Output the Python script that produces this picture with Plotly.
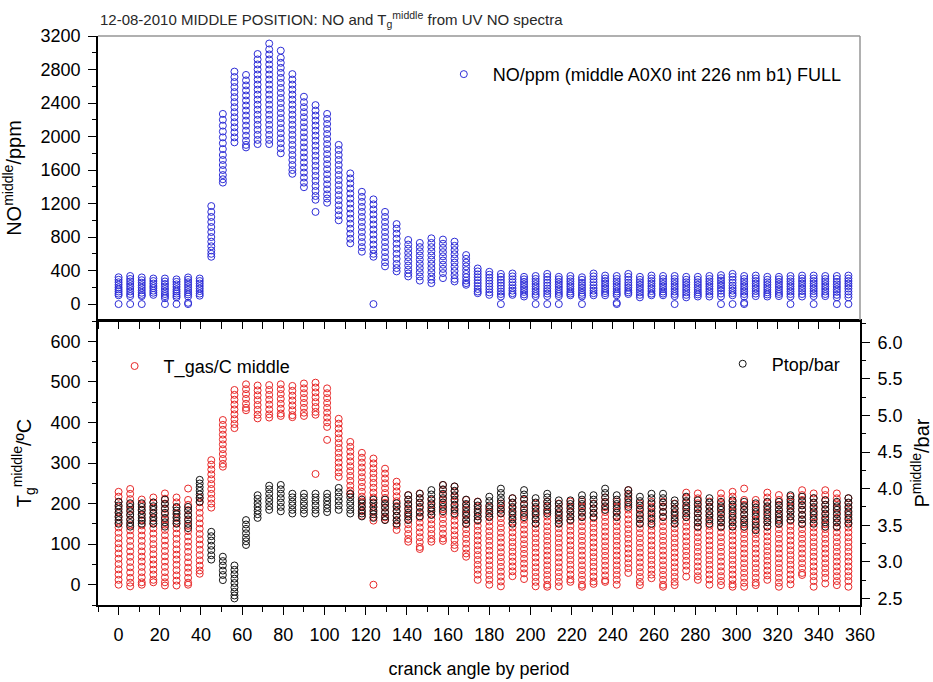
import plotly.graph_objects as go

# crank angle of each measurement column (deg)
ANGLES = [0, 5.625, 11.25, 16.875, 22.5, 28.125, 33.75, 39.375, 45, 50.625, 56.25, 61.875,
          67.5, 73.125, 78.75, 84.375, 90, 95.625, 101.25, 106.875, 112.5, 118.125, 123.75,
          129.375, 135, 140.625, 146.25, 151.875, 157.5, 163.125, 168.75, 174.375, 180,
          185.625, 191.25, 196.875, 202.5, 208.125, 213.75, 219.375, 225, 230.625, 236.25,
          241.875, 247.5, 253.125, 258.75, 264.375, 270, 275.625, 281.25, 286.875, 292.5,
          298.125, 303.75, 309.375, 315, 320.625, 326.25, 331.875, 337.5, 343.125, 348.75,
          354.375]

# NO / ppm, one list per angle column
NO_PPM = [
    [320, 290, 260, 230, 200, 175, 150, 125, 105, 0],
    [335, 300, 270, 240, 210, 180, 150, 120, 95, 0],
    [318, 285, 255, 225, 195, 165, 135, 110, 95, 0],
    [305, 275, 245, 215, 190, 160, 135, 110],
    [305, 270, 240, 210, 180, 150, 120, 95, 70, 0],
    [295, 265, 235, 205, 175, 150, 125, 100, 80, 0],
    [318, 290, 260, 230, 200, 170, 140, 115, 90, 0, 15],
    [305, 275, 245, 215, 185, 155, 125, 100],
    [1170, 1100, 1040, 980, 920, 860, 800, 745, 690, 640, 600, 565],
    [2270, 2200, 2130, 2060, 1990, 1920, 1850, 1780, 1720, 1660, 1600, 1540, 1490, 1450],
    [2775, 2710, 2650, 2590, 2530, 2470, 2410, 2350, 2290, 2230, 2170, 2110, 2050, 1990, 1930],
    [2735, 2670, 2610, 2550, 2490, 2430, 2370, 2310, 2250, 2190, 2130, 2070, 2010, 1950, 1900, 1870],
    [2985, 2920, 2860, 2800, 2740, 2680, 2620, 2560, 2500, 2440, 2380, 2320, 2260, 2200, 2140, 2080, 2020, 1960, 1910],
    [3110, 3040, 2980, 2920, 2860, 2800, 2740, 2680, 2620, 2560, 2500, 2440, 2380, 2320, 2260, 2200, 2140, 2080, 2020, 1960, 1910],
    [3025, 2940, 2880, 2820, 2760, 2700, 2640, 2580, 2520, 2460, 2400, 2340, 2280, 2220, 2160, 2100, 2040, 1980, 1920, 1860, 1800],
    [2745, 2680, 2620, 2560, 2500, 2440, 2380, 2320, 2260, 2200, 2140, 2080, 2020, 1960, 1900, 1840, 1780, 1720, 1660, 1600, 1555],
    [2475, 2410, 2350, 2290, 2230, 2170, 2110, 2050, 1990, 1930, 1870, 1810, 1750, 1690, 1630, 1570, 1510, 1450, 1395],
    [2375, 2310, 2250, 2190, 2130, 2070, 2010, 1950, 1890, 1830, 1770, 1710, 1650, 1590, 1530, 1470, 1410, 1350, 1290, 1245, 1100],
    [2270, 2210, 2150, 2090, 2030, 1970, 1910, 1850, 1790, 1730, 1670, 1610, 1550, 1490, 1430, 1370, 1310, 1260, 1210],
    [1900, 1840, 1780, 1720, 1660, 1600, 1540, 1480, 1420, 1360, 1300, 1240, 1180, 1120, 1060, 1000],
    [1560, 1500, 1440, 1380, 1320, 1260, 1200, 1140, 1080, 1020, 960, 900, 840, 780, 725],
    [1340, 1280, 1220, 1160, 1100, 1040, 980, 920, 860, 800, 740, 680, 625],
    [1250, 1190, 1130, 1070, 1010, 950, 890, 830, 770, 710, 650, 600, 565, 0],
    [1100, 1040, 980, 920, 860, 800, 740, 680, 620, 560, 500, 450],
    [955, 900, 840, 780, 720, 660, 600, 540, 480, 430, 390],
    [765, 710, 660, 610, 560, 510, 460, 410, 365, 330],
    [730, 680, 630, 580, 530, 480, 430, 380, 330, 280],
    [785, 730, 680, 630, 580, 530, 480, 430, 380, 330, 290, 250],
    [770, 720, 670, 620, 570, 520, 470, 420, 370, 310],
    [745, 695, 645, 595, 545, 495, 445, 395, 345, 300, 270],
    [585, 540, 495, 450, 405, 360, 320, 280, 250, 230],
    [425, 390, 355, 320, 285, 250, 215, 180, 150, 130],
    [385, 350, 315, 280, 245, 210, 175, 140, 110],
    [360, 325, 290, 255, 220, 185, 150, 120, 90, 0],
    [365, 330, 295, 260, 225, 190, 160, 130, 110],
    [325, 295, 265, 235, 205, 175, 145, 115, 90],
    [335, 300, 270, 240, 210, 180, 150, 120, 95, 0],
    [360, 325, 290, 255, 220, 185, 155, 125, 95, 0],
    [325, 295, 265, 235, 205, 175, 145, 120, 95, 0],
    [335, 300, 270, 240, 210, 180, 150, 125, 105],
    [320, 290, 255, 225, 195, 165, 135, 110, 90, 0],
    [365, 330, 295, 260, 225, 190, 160, 130, 105],
    [340, 305, 275, 245, 215, 185, 155, 130, 105],
    [335, 300, 270, 240, 210, 180, 150, 125, 105, 0, 15],
    [360, 325, 290, 255, 225, 195, 165, 140, 120],
    [325, 290, 260, 230, 200, 170, 140, 110, 80],
    [340, 305, 275, 245, 215, 185, 155, 125, 105],
    [335, 300, 270, 240, 210, 180, 150, 125, 105],
    [335, 300, 270, 240, 210, 180, 150, 120, 95, 0],
    [325, 290, 260, 230, 200, 170, 140, 110, 80],
    [325, 290, 260, 230, 200, 170, 140, 115, 90],
    [335, 300, 270, 240, 210, 180, 150, 120, 90],
    [345, 310, 280, 250, 220, 190, 160, 125, 90, 0],
    [360, 325, 290, 255, 220, 190, 160, 130, 105, 0],
    [335, 300, 270, 240, 210, 180, 150, 120, 90, 0, 15],
    [340, 305, 275, 245, 215, 185, 155, 125, 95],
    [325, 290, 260, 230, 200, 170, 140, 115, 90],
    [325, 295, 265, 235, 205, 175, 145, 120, 95],
    [335, 300, 270, 240, 210, 180, 150, 120, 90, 0],
    [340, 305, 275, 245, 215, 185, 155, 120, 90],
    [340, 305, 275, 245, 215, 185, 155, 125, 95, 0],
    [335, 300, 270, 240, 210, 180, 150, 120, 95],
    [335, 300, 265, 235, 205, 175, 145, 110, 80, 0],
    [340, 305, 275, 245, 215, 185, 150, 115, 80, 0],
]

# gas temperature / degC, one list per angle column
T_GAS = [
    [229, 217, 204, 192, 179, 166, 153, 141, 128, 115, 102, 90, 77, 64, 51, 38, 25, 12, 0],
    [236, 224, 211, 198, 185, 172, 160, 147, 134, 121, 108, 95, 82, 69, 56, 43, 30, 17, 5, -4],
    [210, 198, 185, 172, 159, 146, 134, 121, 108, 95, 82, 69, 57, 44, 31, 18, 6, 0],
    [215, 203, 190, 177, 164, 151, 139, 126, 113, 100, 88, 75, 62, 50, 37, 25, 12, 6],
    [225, 212, 200, 187, 174, 161, 148, 135, 122, 109, 96, 83, 70, 57, 44, 31, 18, 6, -2],
    [215, 203, 190, 177, 164, 152, 139, 126, 113, 100, 87, 74, 62, 49, 36, 23, 10, -2],
    [237, 209, 197, 184, 171, 158, 145, 132, 119, 106, 94, 81, 68, 55, 42, 30, 17, 5, 0],
    [215, 203, 190, 177, 164, 151, 138, 125, 112, 99, 86, 73, 60, 47, 35, 27],
    [307, 296, 284, 272, 260, 248, 236, 224, 212, 200, 190],
    [406, 394, 382, 370, 358, 346, 334, 322, 310, 298, 291],
    [480, 468, 456, 444, 432, 420, 408, 396, 386],
    [494, 482, 470, 458, 446, 436, 430],
    [491, 479, 467, 455, 443, 431, 419, 410],
    [492, 480, 468, 456, 444, 432, 420, 412],
    [494, 482, 470, 458, 446, 434, 422, 416],
    [490, 478, 466, 454, 442, 430, 418, 413],
    [496, 484, 472, 460, 448, 436, 424, 416],
    [498, 486, 474, 462, 450, 438, 426, 419, 273],
    [484, 472, 460, 448, 436, 424, 412, 400, 389, 357],
    [409, 397, 385, 373, 361, 349, 337, 325, 313, 301, 289, 277, 266],
    [352, 340, 328, 316, 304, 292, 280, 268, 256, 244, 232, 223],
    [325, 313, 301, 289, 277, 265, 253, 241, 229, 217, 205, 193, 181, 170],
    [311, 299, 287, 275, 263, 251, 239, 227, 215, 203, 191, 179, 167, 158, 0],
    [286, 274, 262, 250, 238, 226, 214, 202, 190, 178, 166, 160],
    [254, 242, 230, 218, 206, 194, 182, 170, 158, 146, 135],
    [221, 209, 197, 185, 173, 161, 149, 137, 125, 113, 106],
    [225, 213, 201, 189, 177, 165, 153, 141, 129, 117, 105, 93, 88],
    [209, 197, 185, 173, 161, 149, 137, 125, 113, 106],
    [246, 234, 222, 210, 198, 186, 174, 162, 150, 138, 126, 114, 108],
    [242, 230, 218, 206, 194, 182, 170, 158, 146, 134, 122, 110, 98, 90],
    [209, 197, 185, 173, 161, 149, 137, 125, 113, 101, 89, 77, 69],
    [205, 193, 181, 169, 157, 145, 133, 121, 109, 97, 85, 73, 61, 49, 37, 25, 12],
    [192, 180, 168, 156, 144, 132, 120, 108, 96, 84, 72, 60, 48, 36, 24, 12, 0],
    [200, 188, 176, 164, 152, 140, 128, 116, 104, 92, 80, 68, 56, 44, 32, 20, 8, -4],
    [213, 201, 189, 177, 165, 153, 141, 129, 117, 105, 93, 81, 69, 57, 45, 33, 21],
    [210, 198, 184, 172, 160, 148, 136, 124, 112, 100, 88, 76, 64, 52, 40, 28, 14],
    [200, 188, 176, 164, 151, 139, 127, 115, 103, 91, 79, 67, 55, 43, 31, 19, 7, -4],
    [205, 193, 180, 168, 156, 144, 132, 120, 108, 96, 84, 72, 60, 48, 36, 24, 12, 0, -5],
    [200, 188, 176, 164, 151, 139, 127, 115, 103, 91, 79, 67, 55, 43, 31, 19, 7, -4],
    [205, 193, 181, 169, 157, 145, 133, 121, 109, 97, 85, 73, 61, 49, 37, 25, 13, 7],
    [205, 193, 180, 168, 156, 144, 132, 120, 108, 96, 84, 72, 60, 48, 36, 24, 12, 0, -5],
    [200, 188, 176, 164, 152, 140, 128, 116, 104, 92, 80, 68, 56, 44, 32, 20, 8, 2],
    [215, 203, 191, 179, 167, 155, 143, 131, 119, 107, 95, 83, 71, 59, 47, 35, 23, 11, 7],
    [205, 193, 181, 168, 156, 144, 132, 120, 108, 96, 84, 72, 60, 48, 36, 24, 12, 0],
    [233, 221, 209, 197, 185, 173, 161, 149, 137, 125, 113, 101, 89, 77, 65, 53, 41, 29],
    [200, 188, 176, 164, 151, 139, 127, 115, 103, 91, 79, 67, 55, 43, 31, 19, 7, -1],
    [205, 193, 181, 169, 157, 145, 133, 121, 109, 97, 85, 73, 61, 49, 37, 25, 16],
    [205, 193, 180, 168, 156, 144, 132, 120, 108, 96, 84, 72, 60, 48, 36, 24, 12, 0, -5],
    [200, 188, 176, 164, 151, 139, 127, 115, 103, 91, 79, 67, 55, 43, 31, 19, 7, -1],
    [227, 215, 203, 191, 179, 167, 155, 143, 131, 119, 107, 95, 83, 71, 59, 47, 35, 20],
    [225, 213, 201, 189, 177, 165, 153, 141, 129, 117, 105, 93, 81, 69, 57, 45, 33, 21, 12],
    [205, 193, 181, 169, 157, 145, 133, 121, 109, 97, 85, 73, 61, 49, 37, 25, 13, 0],
    [225, 213, 201, 189, 177, 165, 153, 141, 129, 117, 105, 93, 81, 69, 57, 45, 33, 21, 9, -1],
    [229, 217, 205, 193, 181, 169, 157, 145, 133, 121, 109, 97, 85, 73, 61, 49, 37, 25, 13, 1, -5],
    [237, 209, 197, 185, 173, 161, 149, 137, 125, 113, 101, 89, 77, 65, 53, 41, 29, 17, 5, -5],
    [209, 197, 185, 173, 161, 149, 137, 125, 113, 101, 89, 77, 65, 53, 41, 29, 17, 5, -1],
    [227, 215, 203, 191, 179, 167, 155, 143, 131, 119, 107, 95, 83, 71, 59, 47, 35, 23, 12],
    [221, 209, 197, 185, 173, 161, 149, 137, 125, 113, 101, 89, 77, 65, 53, 41, 29, 17, 5, -5],
    [217, 205, 193, 181, 169, 157, 145, 133, 121, 109, 97, 85, 73, 61, 49, 37, 25, 13, 1],
    [233, 221, 209, 197, 185, 173, 161, 149, 137, 125, 113, 101, 89, 77, 65, 53, 41, 29, 24],
    [225, 213, 201, 189, 177, 165, 153, 141, 129, 117, 105, 93, 81, 69, 57, 45, 33, 21, 9, -5],
    [233, 221, 209, 197, 185, 173, 161, 149, 137, 125, 113, 101, 89, 77, 65, 53, 41, 29, 17, 3],
    [225, 213, 201, 189, 177, 165, 153, 141, 129, 117, 105, 93, 81, 69, 57, 45, 33, 21, 9, -1],
    [213, 201, 189, 177, 165, 153, 141, 129, 117, 105, 93, 81, 69, 57, 45, 33, 21, 9, -5],
]

# top pressure / bar, one list per angle column
P_TOP = [
    [3.82, 3.77, 3.72, 3.67, 3.62, 3.57, 3.52],
    [3.80, 3.75, 3.69, 3.64, 3.58, 3.53, 3.48],
    [3.80, 3.75, 3.70, 3.65, 3.60, 3.56, 3.52],
    [3.81, 3.76, 3.71, 3.66, 3.61, 3.56, 3.52],
    [3.85, 3.79, 3.73, 3.67, 3.60, 3.54, 3.48],
    [3.75, 3.70, 3.65, 3.61, 3.56, 3.52],
    [3.75, 3.70, 3.64, 3.58, 3.52, 3.46],
    [4.12, 4.07, 4.02, 3.97, 3.92, 3.87, 3.82],
    [3.41, 3.35, 3.29, 3.22, 3.16, 3.09, 3.03],
    [3.07, 3.01, 2.95, 2.88, 2.82, 2.75],
    [2.95, 2.89, 2.83, 2.77, 2.71, 2.65, 2.59, 2.54, 2.50],
    [3.57, 3.51, 3.45, 3.39, 3.33, 3.28, 3.23],
    [3.91, 3.86, 3.80, 3.75, 3.70, 3.65, 3.60],
    [4.04, 3.99, 3.93, 3.87, 3.82, 3.76, 3.71],
    [4.05, 3.99, 3.93, 3.87, 3.81, 3.75, 3.69],
    [3.93, 3.88, 3.82, 3.77, 3.71, 3.66],
    [3.93, 3.88, 3.82, 3.77, 3.71, 3.66],
    [3.93, 3.88, 3.83, 3.77, 3.71, 3.66],
    [3.93, 3.88, 3.83, 3.78, 3.73, 3.68],
    [4.01, 3.95, 3.89, 3.83, 3.77, 3.71],
    [3.93, 3.88, 3.82, 3.77, 3.71, 3.66],
    [3.85, 3.80, 3.75, 3.70, 3.66, 3.62],
    [3.85, 3.80, 3.75, 3.70, 3.65, 3.60],
    [3.85, 3.79, 3.74, 3.68, 3.62, 3.57],
    [3.80, 3.75, 3.69, 3.63, 3.57, 3.52],
    [3.91, 3.85, 3.79, 3.73, 3.67, 3.62, 3.57],
    [3.93, 3.87, 3.81, 3.75, 3.68, 3.62],
    [3.98, 3.92, 3.86, 3.80, 3.74, 3.69, 3.64],
    [4.05, 3.99, 3.93, 3.87, 3.81, 3.75, 3.69],
    [4.03, 3.97, 3.91, 3.85, 3.78, 3.72, 3.66],
    [3.85, 3.79, 3.74, 3.68, 3.63, 3.57, 3.52],
    [3.82, 3.77, 3.72, 3.67, 3.62, 3.57],
    [3.89, 3.83, 3.77, 3.72, 3.66, 3.61],
    [4.00, 3.94, 3.88, 3.83, 3.77, 3.71, 3.66],
    [3.87, 3.81, 3.75, 3.69, 3.64, 3.58, 3.52],
    [3.98, 3.92, 3.86, 3.79, 3.73, 3.67, 3.61],
    [3.87, 3.81, 3.75, 3.69, 3.64, 3.58, 3.52],
    [3.93, 3.88, 3.82, 3.77, 3.71, 3.66],
    [3.84, 3.79, 3.73, 3.68, 3.63, 3.57, 3.52],
    [3.84, 3.79, 3.73, 3.68, 3.62, 3.57],
    [3.91, 3.85, 3.79, 3.73, 3.67, 3.61],
    [3.91, 3.85, 3.79, 3.73, 3.67, 3.61],
    [4.00, 3.94, 3.88, 3.82, 3.76, 3.71],
    [3.91, 3.85, 3.79, 3.73, 3.67, 3.61],
    [3.98, 3.93, 3.87, 3.81, 3.75],
    [3.89, 3.83, 3.77, 3.71, 3.64, 3.58, 3.52],
    [3.93, 3.87, 3.80, 3.73, 3.66, 3.59, 3.52],
    [3.93, 3.87, 3.81, 3.75, 3.68, 3.61],
    [3.84, 3.79, 3.73, 3.68, 3.63, 3.57, 3.52],
    [3.89, 3.83, 3.77, 3.72, 3.66, 3.61],
    [3.84, 3.78, 3.72, 3.66, 3.60, 3.54, 3.48],
    [3.87, 3.81, 3.75, 3.69, 3.64, 3.58, 3.52],
    [3.82, 3.76, 3.71, 3.65, 3.59, 3.54, 3.48],
    [3.84, 3.78, 3.72, 3.66, 3.60, 3.54, 3.48],
    [3.82, 3.76, 3.71, 3.65, 3.59, 3.54, 3.48],
    [3.80, 3.74, 3.68, 3.62, 3.55, 3.49, 3.43],
    [3.82, 3.76, 3.71, 3.65, 3.59, 3.54, 3.48],
    [3.82, 3.77, 3.71, 3.66, 3.61, 3.56, 3.52],
    [3.91, 3.85, 3.79, 3.73, 3.68, 3.62, 3.57],
    [3.89, 3.83, 3.77, 3.71, 3.64, 3.58, 3.52],
    [3.87, 3.81, 3.75, 3.69, 3.64, 3.58, 3.52],
    [3.84, 3.78, 3.72, 3.66, 3.60, 3.54, 3.48],
    [3.82, 3.76, 3.71, 3.65, 3.59, 3.54, 3.48],
    [3.87, 3.81, 3.75, 3.69, 3.64, 3.58, 3.52],
]

X_TICKS = list(range(0, 361, 20))


def flatten(columns):
    xs, ys = [], []
    for ang, col in zip(ANGLES, columns):
        xs.extend([ang] * len(col))
        ys.extend(col)
    return xs, ys


FONT = "Liberation Sans, Arial, sans-serif"
BLUE = "rgb(45,45,215)"
RED = "rgb(232,40,40)"
BLACK = "rgb(20,20,20)"

no_x, no_y = flatten(NO_PPM)
t_x, t_y = flatten(T_GAS)
p_x, p_y = flatten(P_TOP)

fig = go.Figure()
fig.add_trace(go.Scatter(
    x=no_x, y=no_y, mode="markers", xaxis="x", yaxis="y",
    name="NO/ppm (middle A0X0 int 226 nm b1) FULL", legend="legend",
    marker=dict(symbol="circle-open", size=7, color=BLUE, line=dict(width=1, color=BLUE))))
fig.add_trace(go.Scatter(
    x=t_x, y=t_y, mode="markers", xaxis="x2", yaxis="y2",
    name="T_gas/C middle", legend="legend2",
    marker=dict(symbol="circle-open", size=7, color=RED, line=dict(width=1, color=RED))))
fig.add_trace(go.Scatter(
    x=p_x, y=p_y, mode="markers", xaxis="x2", yaxis="y3",
    name="Ptop/bar", legend="legend3",
    marker=dict(symbol="circle-open", size=7, color=BLACK, line=dict(width=1, color=BLACK))))

tickfont = dict(family=FONT, size=18, color="black")
titlefont = dict(family=FONT, size=20, color="black")
LW = 1.6

TOP_DOM = [0.5009, 1.0]
BOT_DOM = [0.0, 0.4991]

legend_common = dict(xanchor="left", yanchor="top", bgcolor="rgba(0,0,0,0)",
                     itemwidth=48, font=dict(family=FONT, size=18, color="black"))

fig.update_layout(
    width=933, height=682,
    margin=dict(l=98, r=73, t=36, b=77, autoexpand=False),
    paper_bgcolor="white", plot_bgcolor="white",
    font=dict(family=FONT, color="black"),
    showlegend=True,
    xaxis=dict(domain=[0, 1], anchor="y", range=[-10, 360], showticklabels=False, automargin=False,
               ticks="outside", tick0=0, dtick=10, ticklen=7, tickwidth=1.3, tickcolor="black",
               showline=True, linecolor="black", linewidth=LW, showgrid=False, zeroline=False),
    yaxis=dict(domain=TOP_DOM, anchor="x", range=[-190, 3200], automargin=False,
               tickmode="array", tickvals=[0, 400, 800, 1200, 1600, 2000, 2400, 2800, 3200],
               ticks="outside", ticklen=8, tickwidth=1.3, tickcolor="black",
               minor=dict(dtick=200, tick0=0, ticks="outside", ticklen=4, tickcolor="black", tickwidth=1.3),
               showline=True, linecolor="black", linewidth=LW, showgrid=False, zeroline=False,
               tickfont=tickfont, ticklabelstandoff=4,
               title=dict(text="NO<sup>middle</sup>/ppm", font=titlefont, standoff=14)),
    xaxis2=dict(domain=[0, 1], anchor="y2", range=[-10, 360], automargin=False,
                tickmode="array", tickvals=X_TICKS,
                ticks="outside", ticklen=8, tickwidth=1.3, tickcolor="black",
                minor=dict(dtick=10, tick0=0, ticks="outside", ticklen=5, tickcolor="black", tickwidth=1.3),
                showline=True, mirror=True, linecolor="black", linewidth=LW,
                showgrid=False, zeroline=False, tickfont=tickfont, ticklabelstandoff=5,
                title=dict(text="cranck angle by period", font=dict(family=FONT, size=18, color="black"),
                           standoff=18)),
    yaxis2=dict(domain=BOT_DOM, anchor="x2", range=[-50, 650], automargin=False,
                tickmode="array", tickvals=[0, 100, 200, 300, 400, 500, 600],
                ticks="outside", ticklen=8, tickwidth=1.3, tickcolor="black",
                minor=dict(dtick=50, tick0=0, ticks="outside", ticklen=4, tickcolor="black", tickwidth=1.3),
                showline=True, linecolor="black", linewidth=LW, showgrid=False, zeroline=False,
                tickfont=tickfont, ticklabelstandoff=4,
                title=dict(text="T<sub>g</sub><sup>middle</sup>/ºC", font=titlefont, standoff=14)),
    yaxis3=dict(overlaying="y2", anchor="x2", side="right", range=[2.41, 6.29], automargin=False,
                tickmode="array", tickvals=[2.5, 3.0, 3.5, 4.0, 4.5, 5.0, 5.5, 6.0], tickformat=".1f",
                ticks="outside", ticklen=8, tickwidth=1.3, tickcolor="black",
                minor=dict(dtick=0.25, tick0=2.5, ticks="outside", ticklen=4, tickcolor="black", tickwidth=1.3),
                showline=True, linecolor="black", linewidth=LW, showgrid=False, zeroline=False,
                tickfont=tickfont, ticklabelstandoff=4,
                title=dict(text="P<sup>middle</sup>/bar", font=titlefont, standoff=16)),
    legend=dict(x=0.442, y=0.965, **legend_common),
    legend2=dict(x=0.010, y=0.452, **legend_common),
    legend3=dict(x=0.808, y=0.456, **legend_common),
    shapes=[
        dict(type="line", xref="paper", yref="paper", x0=0, x1=1, y0=1, y1=1,
             line=dict(color="rgb(150,150,150)", width=1.5)),
        dict(type="line", xref="paper", yref="paper", x0=1, x1=1, y0=TOP_DOM[0], y1=1,
             line=dict(color="rgb(150,150,150)", width=1.5)),
    ],
    annotations=[
        dict(text="12-08-2010 MIDDLE POSITION: NO and T<sub>g</sub><sup>middle</sup> from UV NO spectra",
             xref="paper", yref="paper", x=0.0, y=1.0, xanchor="left", yanchor="bottom",
             yshift=4, showarrow=False, font=dict(family=FONT, size=15, color="rgb(40,40,40)")),
    ],
)

fig.write_html("out.html")
